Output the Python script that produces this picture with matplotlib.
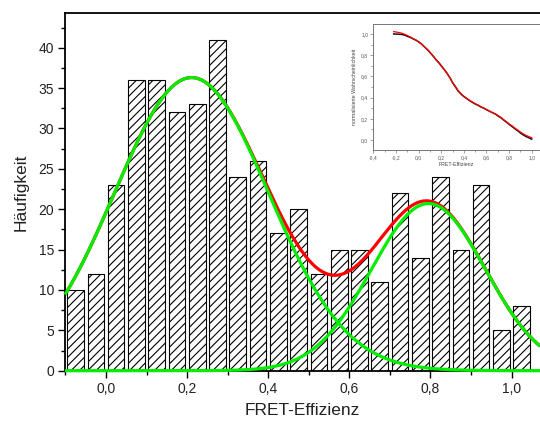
import numpy as np
import matplotlib
matplotlib.use("Agg")
import matplotlib.pyplot as plt
from matplotlib.ticker import MultipleLocator, FixedLocator, FuncFormatter

plt.rcParams["font.family"] = ["Liberation Sans", "DejaVu Sans"]
plt.rcParams["hatch.linewidth"] = 0.8

# Histogram of FRET efficiencies (bin centres, counts)
bin_centers = [-0.075, -0.025, 0.025, 0.075, 0.125, 0.175, 0.225, 0.275,
               0.325, 0.375, 0.425, 0.475, 0.525, 0.575, 0.625, 0.675,
               0.725, 0.775, 0.825, 0.875, 0.925, 0.975, 1.025]
counts = [10, 12, 23, 36, 36, 32, 33, 41, 24, 26, 17, 20, 12, 15, 15, 11,
          22, 14, 24, 15, 23, 5, 8]

# Two-component Gaussian fit (amplitude, centre, sigma)
g1_amp, g1_center, g1_sigma = 36.3, 0.211, 0.19
g2_amp, g2_center, g2_sigma = 20.7, 0.795, 0.1405

# Inset: normalised cumulative probability (measured and fitted)
cum_x = [-0.22, -0.18, -0.15, -0.12, -0.10, -0.07, -0.05, -0.02, 0.00, 0.03,
         0.05, 0.08, 0.10, 0.13, 0.15, 0.18, 0.20, 0.23, 0.25, 0.28, 0.30,
         0.33, 0.35, 0.38, 0.40, 0.43, 0.45, 0.48, 0.50, 0.53, 0.55, 0.58,
         0.60, 0.63, 0.65, 0.68, 0.70, 0.73, 0.75, 0.78, 0.80, 0.83, 0.85,
         0.88, 0.90, 0.93, 0.95, 0.98, 1.00]
cum_meas = [1.000, 0.998, 0.996, 0.988, 0.978, 0.966, 0.955, 0.940, 0.926,
            0.902, 0.880, 0.850, 0.826, 0.790, 0.762, 0.728, 0.702, 0.660,
            0.632, 0.582, 0.542, 0.494, 0.462, 0.428, 0.410, 0.388, 0.372,
            0.352, 0.340, 0.325, 0.312, 0.298, 0.286, 0.270, 0.259, 0.244,
            0.228, 0.208, 0.190, 0.166, 0.148, 0.124, 0.107, 0.084, 0.066,
            0.045, 0.033, 0.018, 0.008]
cum_fit = [1.022, 1.015, 1.008, 0.996, 0.986, 0.970, 0.957, 0.940, 0.925,
           0.902, 0.881, 0.852, 0.828, 0.792, 0.764, 0.726, 0.698, 0.658,
           0.628, 0.582, 0.545, 0.498, 0.466, 0.432, 0.412, 0.390, 0.374,
           0.356, 0.343, 0.327, 0.314, 0.300, 0.288, 0.272, 0.260, 0.246,
           0.232, 0.212, 0.194, 0.170, 0.152, 0.130, 0.113, 0.092, 0.075,
           0.055, 0.044, 0.030, 0.022]

main_xticks = [0.0, 0.2, 0.4, 0.6, 0.8, 1.0]
main_yticks = [0, 5, 10, 15, 20, 25, 30, 35, 40]
inset_xticks = [-0.4, -0.2, 0.0, 0.2, 0.4, 0.6, 0.8, 1.0]
inset_yticks = [0.0, 0.2, 0.4, 0.6, 0.8, 1.0]


def comma(v, pos=None):
    return f"{v:.1f}".replace(".", ",")


W, H = 540, 424
fig = plt.figure(figsize=(W / 100, H / 100), dpi=100)
fig.patch.set_facecolor("white")

x0, x1 = -0.101, 1.070
y0, y1 = 0.0, 44.26
ax = fig.add_axes([65 / W, 1 - 370.7 / H, 1 - 65 / W, (370.7 - 13.3) / H])
ax.set_xlim(x0, x1)
ax.set_ylim(y0, y1)

ax.bar(bin_centers, counts, width=0.041, color="white", edgecolor="black",
       linewidth=0.8, hatch="////", zorder=2)

xs = np.linspace(x0, x1, 600)
gauss1 = g1_amp * np.exp(-(xs - g1_center) ** 2 / (2 * g1_sigma ** 2))
gauss2 = g2_amp * np.exp(-(xs - g2_center) ** 2 / (2 * g2_sigma ** 2))
ax.plot(xs, gauss1 + gauss2, color="#ff0000", lw=2.3, zorder=3,
        solid_capstyle="butt")
ax.plot(xs, gauss1, color="#00ee00", lw=2.3, zorder=4, clip_on=False,
        solid_capstyle="butt")
ax.plot(xs, gauss2, color="#00ee00", lw=2.3, zorder=4, clip_on=False,
        solid_capstyle="butt")

for side in ("right",):
    ax.spines[side].set_visible(False)
for side in ("left", "top", "bottom"):
    ax.spines[side].set_linewidth(1.3)
    ax.spines[side].set_color("black")

ax.xaxis.set_major_locator(FixedLocator(main_xticks))
ax.xaxis.set_minor_locator(MultipleLocator(0.1))
ax.xaxis.set_major_formatter(FuncFormatter(comma))
ax.yaxis.set_major_locator(FixedLocator(main_yticks))
ax.yaxis.set_minor_locator(MultipleLocator(2.5))
ax.tick_params(which="major", direction="out", length=5, width=1.0,
               labelsize=10, labelcolor="#222222", pad=3)
ax.tick_params(which="minor", direction="out", length=3, width=1.0)
ax.tick_params(top=False, right=False)

ax.set_xlabel("FRET-Effizienz", fontsize=12.5, color="#222222", labelpad=5)
ax.set_ylabel("Häufigkeit", fontsize=12.5, color="#222222", labelpad=7)

# Inset with cumulative distribution
ix0, ix1 = -0.4, 1.073
iy0, iy1 = -0.094, 1.094
ins = fig.add_axes([373.3 / W, 1 - 150 / H, (W - 373.3) / W, 126 / H])
ins.set_facecolor("white")
ins.set_xlim(ix0, ix1)
ins.set_ylim(iy0, iy1)
ins.plot(cum_x, cum_meas, color="#111111", lw=1.1, zorder=2)
ins.plot(cum_x, cum_fit, color="#ff0000", lw=0.9, zorder=3)
ins.spines["right"].set_visible(False)
for side in ("left", "top", "bottom"):
    ins.spines[side].set_linewidth(0.7)
    ins.spines[side].set_color("#777777")
ins.xaxis.set_major_locator(FixedLocator(inset_xticks))
ins.xaxis.set_minor_locator(MultipleLocator(0.1))
ins.xaxis.set_major_formatter(FuncFormatter(comma))
ins.yaxis.set_major_locator(FixedLocator(inset_yticks))
ins.yaxis.set_minor_locator(MultipleLocator(0.1))
ins.yaxis.set_major_formatter(FuncFormatter(comma))
ins.tick_params(which="major", direction="out", length=2.2, width=0.5,
                color="#777777", labelsize=3.6, labelcolor="#555555", pad=1.5)
ins.tick_params(which="minor", direction="out", length=1.2, width=0.5,
                color="#777777")
ins.tick_params(top=False, right=False)
ins.set_xlabel("FRET-Effizienz", fontsize=3.8, color="#444444", labelpad=1.5)
ins.set_ylabel("normalisierte Wahrscheinlichkeit", fontsize=3.8,
               color="#444444", labelpad=3)

fig.savefig("out.png", dpi=100, facecolor="white")
